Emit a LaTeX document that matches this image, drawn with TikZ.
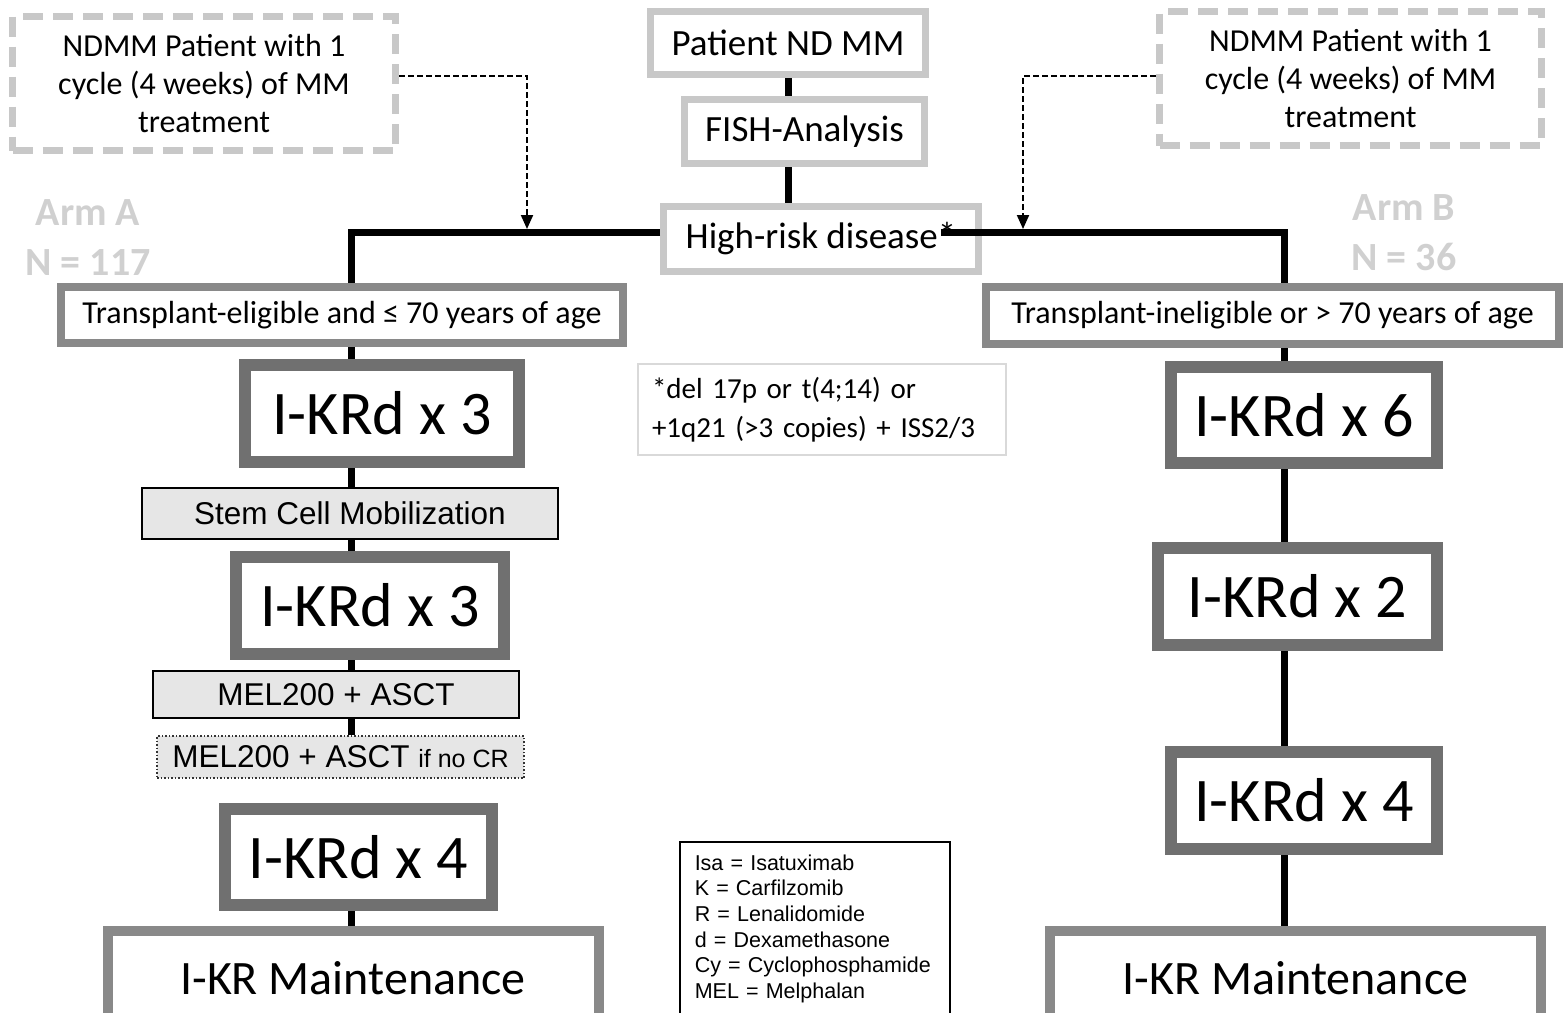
\documentclass[tikz,border=0pt]{standalone}
\usepackage{fontspec}
\setmainfont{Carlito}
\newfontfamily\arial{Liberation Sans}
\usetikzlibrary{arrows.meta}
\usetikzlibrary{positioning}
\usetikzlibrary{math}
\definecolor{paleline}{HTML}{C8C8C8}
\definecolor{midline}{HTML}{898989}
\definecolor{darkline}{HTML}{707070}
\definecolor{boxfill}{HTML}{E6E6E6}
\definecolor{noteline}{HTML}{D9D9D9}
\definecolor{armgray}{HTML}{D0D0D0}
\tikzstyle{pale} = [rectangle, draw=paleline, line width=7pt, fill=white, inner sep=0pt, font=\fontsize{37}{44}\selectfont]
\tikzstyle{cyclebox} = [rectangle, draw=paleline, line width=7pt, dash pattern=on 20pt off 10pt, inner sep=0pt, align=center, minimum width=383pt, minimum height=134pt, font=\fontsize{32}{38}\selectfont]
\tikzstyle{crit} = [rectangle, draw=midline, line width=8pt, fill=white, inner sep=0pt, minimum height=56pt, font=\fontsize{32}{38}\selectfont]
\tikzstyle{therapy} = [rectangle, draw=darkline, line width=12pt, fill=white, inner sep=0pt, minimum height=97pt, font=\fontsize{62}{70}\selectfont]
\tikzstyle{proc} = [rectangle, draw=black, line width=2pt, fill=boxfill, inner sep=0pt, font=\arial\fontsize{31.5}{38}\selectfont]
\tikzstyle{maint} = [rectangle, draw=midline, line width=10pt, fill=white, inner sep=0pt, minimum width=491pt, minimum height=94pt, font=\fontsize{48}{56}\selectfont]
\tikzstyle{arm} = [text=armgray, align=center, font=\bfseries\fontsize{40}{50}\selectfont]
\tikzstyle{conn} = [draw=black, line width=7pt]
\tikzstyle{feed} = [draw=black, line width=2pt, dash pattern=on 6pt off 3pt, -{Triangle[length=14pt,width=12pt]}, shorten >=3pt]

\begin{document}
\begin{tikzpicture}[x=1pt, y=-1pt]

  \tikzmath{\xa = 351; \xb = 1284; \yb = 232;}

  \useasboundingbox (0,0) rectangle (1563,1012);
  \clip (0,0) rectangle (1563,1012);

  % top
  \node[pale, minimum width=275pt, minimum height=63pt] (patient) at (788,43) {Patient ND MM};
  \node[pale, minimum width=240pt, minimum height=64pt] (fish) at (804.5,131.5) {FISH-Analysis};
  \node[pale, minimum width=315pt, minimum height=65pt] (highrisk) at (821,239) {High-risk disease*};
  \node[cyclebox] (dashL) at (204,83.5) {NDMM Patient with 1\\cycle (4 weeks) of MM\\treatment};
  \node[cyclebox, minimum width=382pt] (dashR) at (1350.5,78.5) {NDMM Patient with 1\\cycle (4 weeks) of MM\\treatment};
  \node[arm] (armA) at (88,238) {Arm A\\N = 117};
  \node[arm] (armB) at (1404,233) {Arm B\\N = 36};

  % Arm A
  \node[crit, minimum width=562pt] (eligible) at (342,315) {Transplant-eligible and ≤ 70 years of age};
  \node[therapy, minimum width=274pt] (kA1) at (382,413.5) {I-KRd x 3};
  \node[proc, minimum width=416pt, minimum height=51pt] (stem) at (350,513.5) {Stem Cell Mobilization};
  \node[therapy, minimum width=268pt] (kA2) at (370,605.5) {I-KRd x 3};
  \node[proc, minimum width=366pt, minimum height=47pt] (mel) at (336,694.5) {MEL200 + ASCT};
  \node[proc, draw=black!80, line width=1.5pt, dotted, minimum width=367pt, minimum height=42pt, text depth=2pt] (melcr) at (340.5,757) {MEL200 + ASCT {\fontsize{25}{30}\selectfont if no CR}};
  \node[therapy, minimum width=267pt, minimum height=96pt] (kA3) at (358.5,857) {I-KRd x 4};
  \node[maint] (maintA) at (353,978) {I-KR Maintenance};

  % Arm B
  \node[crit, minimum width=573pt, minimum height=57pt] (ineligible) at (1272.5,315.5) {Transplant-ineligible or > 70 years of age};
  \node[therapy, minimum width=266pt, minimum height=96pt] (kB1) at (1304,415) {I-KRd x 6};
  \node[therapy, minimum width=279pt] (kB2) at (1297.5,596.5) {I-KRd x 2};
  \node[therapy, minimum width=266pt] (kB3) at (1304,800.5) {I-KRd x 4};
  \node[maint] (maintB) at (1295.5,978) {I-KR Maintenance};

  % notes
  \node[draw=noteline, line width=2pt, text width=340pt, inner xsep=14pt, inner ysep=0pt, minimum height=91pt, align=left, font=\fontsize{29}{39}\selectfont] (note) at (822,409.5) {*del 17p or t(4;14) or\\+1q21 (>3 copies) + ISS2/3};
  \node[draw=black, line width=1.5pt, anchor=north west, text width=240pt, inner xsep=15pt, inner ysep=13pt, text depth=160pt, align=left, font=\arial\fontsize{21.5}{25.6}\selectfont] (legend) at (679,841) {Isa = Isatuximab\\K = Carfilzomib\\R = Lenalidomide\\d = Dexamethasone\\Cy = Cyclophosphamide\\MEL = Melphalan};

  % connectors
  \coordinate (forkL) at (\xa,\yb);
  \coordinate (forkR) at (\xb,\yb);
  \coordinate (star) at (941,\yb);
  \coordinate (dropL) at (527,76);
  \coordinate (dropR) at (1023,76);

  \draw[conn] (patient.south) -- (patient.south |- fish.north);
  \draw[conn] (patient.south |- fish.south) -- (patient.south |- highrisk.north);
  \draw[conn] (highrisk.west |- forkL) -- (forkL) -- (forkL |- eligible.north);
  \draw[conn] (star) -- (forkR) -- (forkR |- ineligible.north);
  \foreach \a/\b in {eligible/kA1, kA1/stem, stem/kA2, kA2/mel, mel/melcr, kA3/maintA}
    \draw[conn] (forkL |- \a.south) -- (forkL |- \b.north);
  \foreach \a/\b in {ineligible/kB1, kB1/kB2, kB2/kB3, kB3/maintB}
    \draw[conn] (forkR |- \a.south) -- (forkR |- \b.north);

  \draw[feed] (dropL -| dashL.east) -- (dropL) -- (dropL |- forkL);
  \draw[feed] (dropR -| dashR.west) -- (dropR) -- (dropR |- forkR);

\end{tikzpicture}
\end{document}
